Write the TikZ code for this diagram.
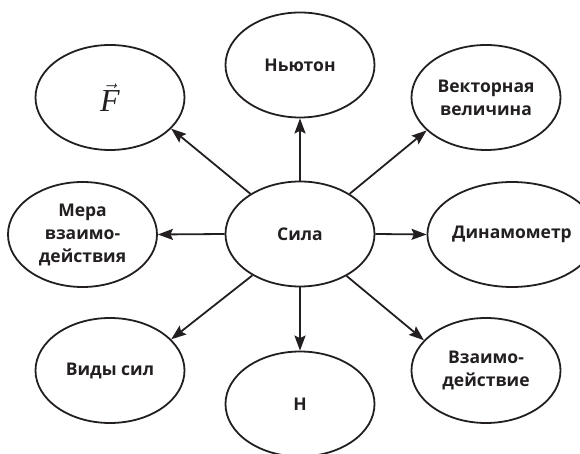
\documentclass[tikz,border=0pt]{standalone}
\usepackage{fontspec}
\setmainfont{Open Sans}
\newfontfamily\serifsym{Liberation Serif}
\usepackage{amsmath}
\usepackage{tikz}
\usetikzlibrary{shapes.geometric,arrows.meta}
\definecolor{ink}{RGB}{35,31,32}

\begin{document}
\begin{tikzpicture} [x=1pt,y=1pt,>={Stealth[length=15pt,width=11pt,inset=2.5pt]},
      idea/.style={ellipse,draw=ink,line width=1.8pt,minimum width=149pt,minimum height=105pt,
                   inner sep=0pt,align=center,text=ink,font=\bfseries\fontsize{17.5}{23}\selectfont},
      link/.style={->,draw=ink,line width=1.8pt}]
    \useasboundingbox (0,0) rectangle (580,454); % page
                      % centre
    \node[idea] (sila) at (300,220) {Сила};
                      % upper row
    \node[idea] (vecf) at (110,356.5) {\fontsize{32}{34}\selectfont$\vec{\text{\serifsym\mdseries\itshape F}}$}; % symbol
    \node[idea] (newton) at (300,389) {Ньютон};
    \node[idea] (vect) at (486,356.5) {Векторная\\величина};
                      % middle row
    \node[idea] (mera) at (82.5,219.5) {Мера\\взаимо-\\действия};
    \node[idea] (dyn) at (512,219.5) {Динамометр}; % runs off the page
                      % lower row
    \node[idea] (vidy) at (110,83.5) {Виды сил};
    \node[idea] (unit) at (300,50) {Н};
    \node[idea] (inter) at (486,83.5) {Взаимо-\\действие};

    \draw [link] (sila.141) -- (vecf.-27);
    \draw [link] (sila.north) -- (newton.south);
    \draw [link] (sila.39) -- (vect.-151);
    \draw [link] (sila.west) -- (mera.east);
    \draw [link] (sila.east) -- (dyn.west);
    \draw [link] (sila.-139) -- (vidy.27);
    \draw [link] (sila.south) -- (unit.north);
    \draw [link] (sila.-42) -- (inter.154);
\end{tikzpicture}
\end{document}
